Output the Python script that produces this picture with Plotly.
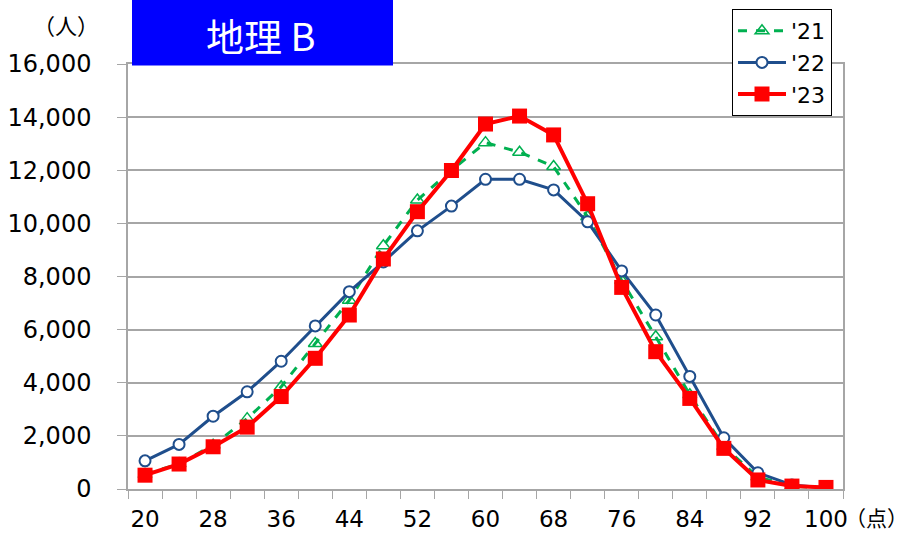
import plotly.graph_objects as go

scores = list(range(20, 101, 4))
y21 = [550, 950, 1650, 2650, 3850, 5480, 7110, 9160, 10880, 12000, 13040, 12680, 12140, 10250, 7850, 5730, 3550, 1600, 450, 110, 40]
y22 = [1060, 1680, 2740, 3660, 4810, 6140, 7430, 8550, 9720, 10650, 11660, 11660, 11260, 10060, 8210, 6550, 4240, 1930, 610, 150, 40]
y23 = [520, 940, 1590, 2330, 3480, 4920, 6550, 8660, 10440, 11990, 13740, 14040, 13330, 10740, 7590, 5170, 3410, 1530, 340, 110, 60]
x_ticks = list(range(20, 101, 8))
y_ticks = list(range(0, 16001, 2000))
series_names = ["'21", "'22", "'23"]
title_text = "地理 B"

FONT = "DejaVu Sans"
FW, FH = 908, 535  # figure size
PW, PH = 715, 425  # plot area size in px

fig = go.Figure()
fig.add_trace(go.Scatter(
    x=scores, y=y21, name=series_names[0], mode="lines+markers",
    line=dict(color="#00b050", width=3, dash="dash"),
    marker=dict(symbol="triangle-up-open", size=12, color="#00b050", line=dict(width=1.5, color="#00b050")),
))
fig.add_trace(go.Scatter(
    x=scores, y=y22, name=series_names[1], mode="lines+markers",
    line=dict(color="#1f4e8c", width=3),
    marker=dict(symbol="circle", size=11, color="white", line=dict(width=2, color="#1f4e8c")),
))
fig.add_trace(go.Scatter(
    x=scores, y=y23, name=series_names[2], mode="lines+markers",
    line=dict(color="#ff0000", width=4),
    marker=dict(symbol="square", size=15, color="#ff0000"),
))

fig.update_layout(
    width=FW, height=FH,
    margin=dict(l=128, r=FW - 843, t=64, b=FH - 489, autoexpand=False),
    paper_bgcolor="white", plot_bgcolor="white",
    font=dict(family=FONT, size=24, color="#000"),
    showlegend=True,
    legend=dict(
        xref="container", yref="container",
        x=732 / FW, y=1 - 9 / FH, xanchor="left", yanchor="top",
        bgcolor="white", bordercolor="#000", borderwidth=1,
        font=dict(family=FONT, size=22), tracegroupgap=0, itemwidth=48,
    ),
    xaxis=dict(
        range=[18, 102], tickvals=x_ticks, ticks="outside", ticklen=0, automargin=False,
        showgrid=False, zeroline=False, showline=True, linecolor="#a6a6a6", linewidth=1.5, mirror=True,
        ticklabelstandoff=9, tickfont=dict(size=23),
        minor=dict(tick0=18, dtick=4, ticks="outside", ticklen=8, tickcolor="#a6a6a6", showgrid=False),
        fixedrange=True,
    ),
    yaxis=dict(
        range=[0, 16000], tickvals=y_ticks, tickformat=",d", ticks="outside", ticklen=9, tickcolor="#a6a6a6",
        showgrid=True, gridcolor="#a6a6a6", gridwidth=1.5, zeroline=False, automargin=False,
        showline=True, linecolor="#a6a6a6", linewidth=1.5, mirror=True,
        ticklabelstandoff=21,
    ),
    shapes=[dict(
        type="rect", xref="paper", yref="paper",
        x0=(132 - 128) / PW, x1=(393 - 128) / PW, y0=1 - 1.5 / PH, y1=1 + 64 / PH,
        fillcolor="#0000ff", line=dict(width=0), layer="above",
    )],
    annotations=[
        dict(text=title_text, xref="paper", yref="paper", x=(260 - 128) / PW, y=1 + (64 - 35) / PH,
             xanchor="center", yanchor="middle", showarrow=False,
             font=dict(family="Noto Sans CJK JP", size=38, color="white")),
        dict(text="（人）", xref="paper", yref="paper", x=(66 - 128) / PW, y=1 + (64 - 24) / PH,
             xanchor="center", yanchor="middle", showarrow=False,
             font=dict(family="Noto Sans CJK JP", size=22, color="#000")),
        dict(text="（点）", xref="paper", yref="paper", x=(876 - 128) / PW, y=-(517 - 489) / PH,
             xanchor="center", yanchor="middle", showarrow=False,
             font=dict(family="Noto Sans CJK JP", size=21, color="#000")),
    ],
)

fig.write_html("out.html", config={"displayModeBar": False},
               post_script="document.body.style.margin='0';")
